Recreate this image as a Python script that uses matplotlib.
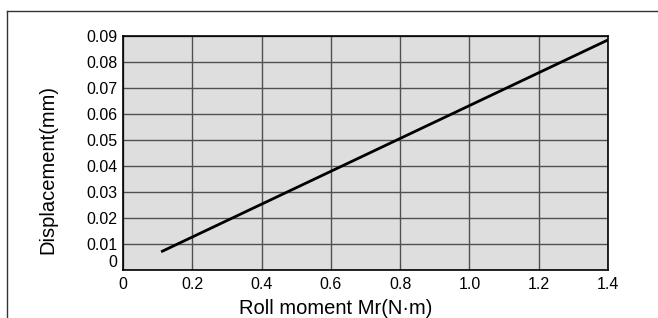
import matplotlib
matplotlib.use("Agg")
import matplotlib.pyplot as plt
from matplotlib.lines import Line2D

plt.rcParams['font.family'] = ['Liberation Sans', 'DejaVu Sans']

# data
moment = [0.11, 1.4]
displacement = [0.007, 0.0885]
xticks = [0, 0.2, 0.4, 0.6, 0.8, 1.0, 1.2, 1.4]
xticklabels = ["0", "0.2", "0.4", "0.6", "0.8", "1.0", "1.2", "1.4"]
yticks = [0, 0.01, 0.02, 0.03, 0.04, 0.05, 0.06, 0.07, 0.08, 0.09]
yticklabels = ["0", "0.01", "0.02", "0.03", "0.04", "0.05", "0.06", "0.07", "0.08", "0.09"]

fig = plt.figure(figsize=(6.58, 3.18), dpi=100)

# outer frame (cropped box)
fig.add_artist(Line2D([7/658, 1.0], [1 - 11/318, 1 - 11/318], color="#333333", lw=1.0))
fig.add_artist(Line2D([7/658, 7/658], [0.0, 1 - 11/318], color="#333333", lw=1.0))

ax = fig.add_axes([123/658, 48/318, 485/658, 234/318])
ax.set_facecolor("#dedede")

ax.plot(moment, displacement, color="black", lw=2.0, solid_capstyle="butt", zorder=3)

ax.set_xlim(0, 1.4)
ax.set_ylim(0, 0.09)
ax.set_xticks(xticks)
ax.set_xticklabels(xticklabels)
ax.set_yticks(yticks)
ax.set_yticklabels(yticklabels)
ax.grid(True, color="#505050", lw=1.0, zorder=1)
ax.set_axisbelow(True)

ax.tick_params(axis="x", length=0, pad=5, labelsize=11.5)
ax.tick_params(axis="y", length=0, pad=4, labelsize=11.5)
ax.get_yticklabels()[0].set_va("bottom")

for s in ax.spines.values():
    s.set_color("black")
    s.set_linewidth(1.2)

ax.set_xlabel("Roll moment Mr(N·m)", fontsize=14.5)
ax.set_ylabel("Displacement(mm)", fontsize=14.5)
ax.xaxis.set_label_coords((336 - 123) / 485, -(308 - 270) / 234)
ax.xaxis.label.set_va("center")
ax.yaxis.set_label_coords(-(123 - 48) / 485, (270 - 170) / 234)
ax.yaxis.label.set_va("center")

fig.savefig("out.png", dpi=100)
